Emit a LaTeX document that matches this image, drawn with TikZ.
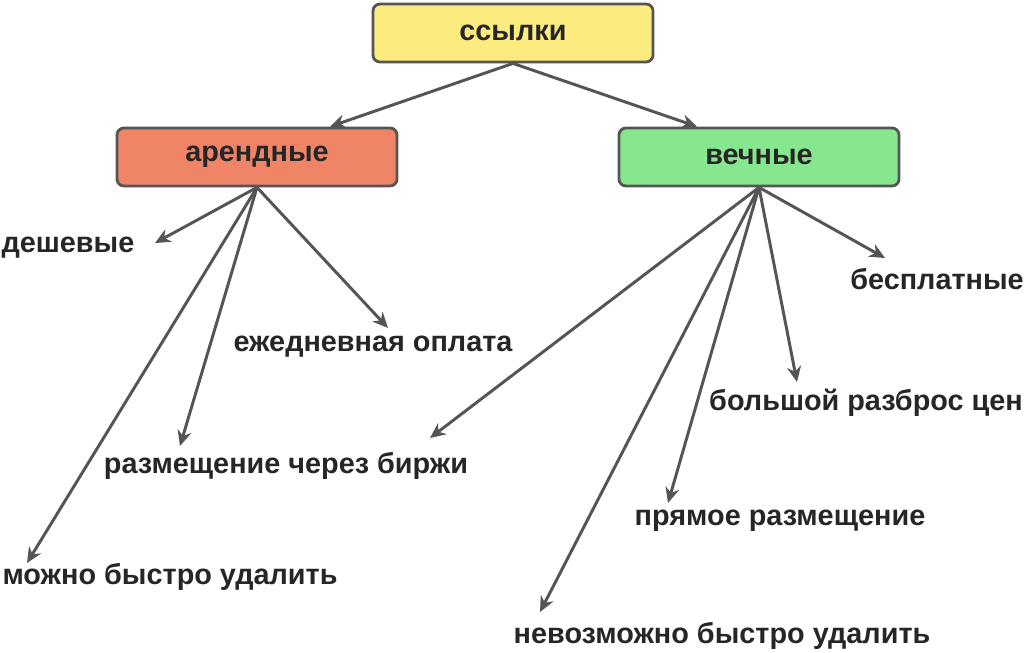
\documentclass[tikz,border=0pt]{standalone}
\usepackage{fontspec}
\setmainfont{Liberation Sans}
\usetikzlibrary{arrows.meta}
\definecolor{boxyellow}{HTML}{FCEB7F}
\definecolor{boxred}{HTML}{F08466}
\definecolor{boxgreen}{HTML}{86E78E}
\definecolor{edge}{HTML}{555555}
\tikzset{
  box/.style={draw=edge, line width=2pt, rounded corners=5pt, minimum width=7cm, minimum height=1.45cm, font=\fontsize{20.5}{24}\selectfont\bfseries, text=black!85},
  leaf/.style={font=\fontsize{20.5}{24}\selectfont\bfseries, text=black!85, inner sep=0pt},
  line/.style={draw=edge, line width=2.1pt, -{Stealth[length=11pt,width=10pt]}}
}
\begin{document}
\begin{tikzpicture}[x=0.025cm, y=-0.025cm]
	\useasboundingbox (0,0) rectangle (1024,652);
	\node [box, fill=boxyellow] (links) at (513,33) {ссылки};
	\node [box, fill=boxred] (rent) at (257,157) {арендные};
	\node [box, fill=boxgreen] (eternal) at (759,157) {вечные};
	% rent leaves
	\node [leaf] (cheap) at (68,248) {дешевые};
	\node [leaf] (daily) at (373,347) {ежедневная оплата};
	\node [leaf] (exchange) at (286,466) {размещение через биржи};
	\node [leaf] (quick) at (170,577) {можно быстро удалить};
	% eternal leaves
	\node [leaf] (free) at (937,279) {бесплатные};
	\node [leaf] (spread) at (866,403) {большой разброс цен};
	\node [leaf] (direct) at (780,521) {прямое размещение};
	\node [leaf] (noquick) at (722,636) {невозможно быстро удалить};
	% arrow tips
	\coordinate (tcheap) at (155,243);
	\coordinate (tdaily) at (388,328);
	\coordinate (texchange) at (180,446);
	\coordinate (tquick) at (27,563);
	\coordinate (tbirzhi) at (430,438);
	\coordinate (tfree) at (885,258);
	\coordinate (tspread) at (797,382);
	\coordinate (tdirect) at (668,503);
	\coordinate (tnoquick) at (540,612);
	\path [line] (links.south) to (rent.north east -| 330,0) ;
	\path [line] (links.south) to (eternal.north west -| 697,0);
	\foreach \t in {tcheap,tdaily,texchange,tquick}
		\path [line] (rent.south) to (\t);
	\foreach \t in {tbirzhi,tfree,tspread,tdirect,tnoquick}
		\path [line] (eternal.south) to (\t);
\end{tikzpicture}
\end{document}
